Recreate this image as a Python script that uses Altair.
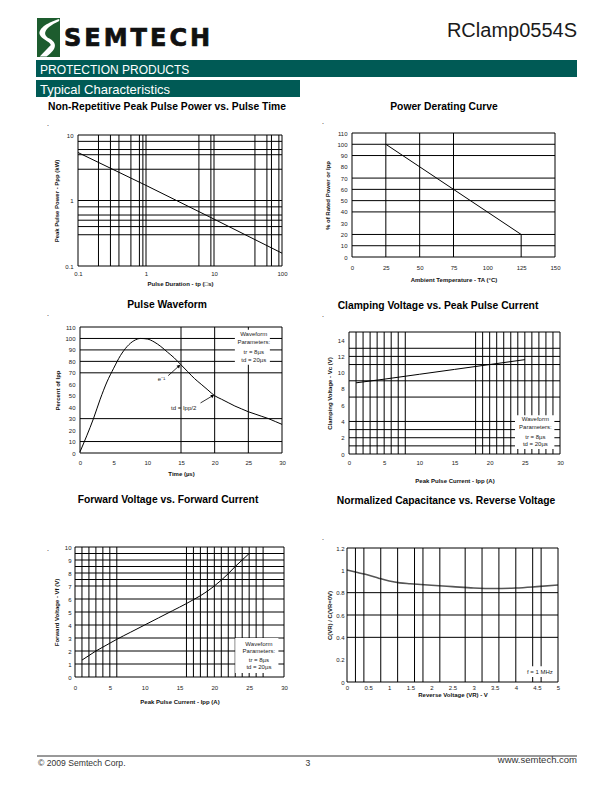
import math
import altair as alt
import pandas as pd

FONT = "Liberation Sans, Arial, Helvetica, sans-serif"
HEAVY = "DejaVu Sans, Verdana, sans-serif"
TEAL = "#005a55"
INK = "#222222"
W, H = 596, 776

# ---------------- data ----------------
# 1  Non-Repetitive Peak Pulse Power vs. Pulse Time
c1_tp = [0.1, 1, 10, 100]
c1_ppp = [5.4, 1.7, 0.52, 0.157]
c1_vgrid = [0.2, 0.3, 0.4, 0.6, 0.8, 0.9, 1, 6, 9, 10, 40, 60, 70, 90]
c1_hgrid = [0.3, 0.4, 0.5, 0.6, 0.8, 1, 3, 5, 6, 8]
c1_xticks = [0.1, 1, 10, 100]
c1_yticks = [0.1, 1, 10]

# 2  Power Derating Curve
c2_temp = [25, 125, 125]
c2_pct = [100, 20, 0]
c2_vgrid = [25, 50, 75]
c2_hgrid = [10, 20, 40, 50, 60, 70, 90, 100]
c2_xticks = [0, 25, 50, 75, 100, 125, 150]
c2_yticks = [0, 10, 20, 30, 40, 50, 60, 70, 80, 90, 100, 110]

# 3  Pulse Waveform
c3_time = [0, 1, 2, 3, 4, 5, 6, 7, 8, 9, 10, 11, 12, 13, 14, 15, 16, 17, 18, 19,
           20, 21, 22, 23, 24, 25, 26, 27, 28, 29, 30]
c3_pct = [1, 15, 30, 47, 62, 74, 85, 93, 98, 100, 99.5, 97, 93, 88, 83, 77, 71, 65,
          60, 55, 50, 47, 44, 41, 38.5, 36, 34, 32, 30, 27.5, 25]
c3_vgrid = [15, 20, 25]
c3_hgrid = [10, 30, 70, 80, 90, 100]
c3_xticks = [0, 5, 10, 15, 20, 25, 30]
c3_yticks = [0, 10, 20, 30, 40, 50, 60, 70, 80, 90, 100, 110]

# 4  Clamping Voltage vs. Peak Pulse Current
c4_ipp = [1, 5, 10, 15, 20, 25]
c4_vc = [8.75, 9.2, 9.8, 10.4, 11.0, 11.6]
c4_vgrid = [1, 2, 3, 4, 5, 6, 7, 8, 18, 19, 20, 21, 22, 23, 24, 25, 26, 27, 28, 29]
c4_hgrid = [1, 2, 3, 4, 7, 9, 11, 12, 13]
c4_xticks = [0, 5, 10, 15, 20, 25, 30]
c4_yticks = [0, 2, 4, 6, 8, 10, 12, 14]

# 5  Forward Voltage vs. Forward Current
c5_ipp = [1, 2, 3, 4, 5, 6, 8, 10, 12, 14, 16, 17, 18, 19, 20, 21, 22, 23, 24, 25]
c5_vf = [1.3, 1.65, 2.0, 2.3, 2.6, 2.9, 3.45, 4.0, 4.55, 5.1, 5.65, 5.95, 6.25, 6.6,
         7.0, 7.45, 7.95, 8.5, 9.0, 9.5]
c5_vgrid = [1, 2, 3, 4, 5, 6, 16, 17, 18, 19, 20, 21, 22, 23, 24, 25, 26, 27]
c5_hgrid = [1, 2, 3, 4, 5, 6, 7, 7.5, 8, 8.5, 9, 9.5]
c5_xticks = [0, 5, 10, 15, 20, 25, 30]
c5_yticks = [0, 1, 2, 3, 4, 5, 6, 7, 8, 9, 10]

# 6  Normalized Capacitance vs. Reverse Voltage
c6_vr = [0, 0.25, 0.5, 0.75, 1.0, 1.25, 1.5, 2.0, 2.5, 3.0, 3.5, 4.0, 4.5, 5.0]
c6_c = [1.003, 0.98, 0.958, 0.93, 0.905, 0.888, 0.88, 0.866, 0.854, 0.842, 0.837,
        0.842, 0.854, 0.868]
c6_vgrid = [0.2, 0.4, 0.8, 1.2, 1.6, 1.8, 2.2, 2.8, 3.2, 3.6, 4.0, 4.4, 4.6]
c6_hgrid = [0.4, 0.6, 0.8]
c6_xticks = [0, 0.5, 1, 1.5, 2, 2.5, 3, 3.5, 4, 4.5, 5]
c6_yticks = [0, 0.2, 0.4, 0.6, 0.8, 1, 1.2]

wave_lines = ["Waveform", "Parameters:", "tr = 8µs", "td = 20µs"]

titles = ["Non-Repetitive Peak Pulse Power vs. Pulse Time", "Power Derating Curve",
          "Pulse Waveform", "Clamping Voltage vs. Peak Pulse Current",
          "Forward Voltage vs. Forward Current", "Normalized Capacitance vs. Reverse Voltage"]

ONE = pd.DataFrame({"k": [0]})

AX = dict(domain=False, ticks=False, tickSize=0, grid=False, labelFlush=False,
          labelOverlap=False, labelFont=FONT, labelFontSize=6, labelColor=INK,
          titleFont=FONT, titleFontSize=6, titleFontWeight="bold", titleColor="#111")


class Frame:
    def __init__(self, xdom, ydom, xr, yr, xlog=False, ylog=False):
        self.xdom, self.ydom = xdom, ydom
        self.xs = alt.Scale(type="log" if xlog else "linear", domain=xdom, range=xr, nice=False)
        self.ys = alt.Scale(type="log" if ylog else "linear", domain=ydom, range=yr, nice=False)
        self.pxx = (xr[1] - xr[0]) / (xdom[1] - xdom[0])
        self.pxy = (yr[0] - yr[1]) / (ydom[1] - ydom[0])

    def X(self, f, axis=alt.Undefined):
        return alt.X(f, scale=self.xs, axis=axis)

    def Y(self, f, axis=alt.Undefined):
        return alt.Y(f, scale=self.ys, axis=axis)

    def rect(self, x0, x1, y0, y1, fill="white"):
        df = pd.DataFrame({"x0": [x0], "x1": [x1], "y0": [y0], "y1": [y1]})
        return alt.Chart(df).mark_rect(color=fill).encode(
            x=self.X("x0:Q"), x2="x1:Q", y=self.Y("y0:Q"), y2="y1:Q")

    def text(self, xv, yv, labels, size=6):
        df = pd.DataFrame({"x": xv, "y": yv, "t": labels})
        return alt.Chart(df).mark_text(font=FONT, fontSize=size, color=INK, align="center",
                                       baseline="middle").encode(
            x=self.X("x:Q"), y=self.Y("y:Q"), text="t:N")

    def arrow(self, x0, y0, x1, y1):
        df = pd.DataFrame({"x0": [x0], "y0": [y0], "x1": [x1], "y1": [y1]})
        shaft = alt.Chart(df).mark_rule(color="black", strokeWidth=0.8).encode(
            x=self.X("x0:Q"), x2="x1:Q", y=self.Y("y0:Q"), y2="y1:Q")
        ang = math.degrees(math.atan2((x1 - x0) * self.pxx, (y1 - y0) * self.pxy))
        head = alt.Chart(df).mark_point(shape="triangle-up", filled=True, color="black",
                                        size=14, angle=ang, opacity=1).encode(
            x=self.X("x1:Q"), y=self.Y("y1:Q"))
        return [shaft, head]

    def panel(self, xv, yv, ax_x, ax_y, vgrid, hgrid, under=(), over=(),
              color="black", width=1.0, interp="linear"):
        vg = alt.Chart(pd.DataFrame({"v": vgrid, "a": self.ydom[0], "b": self.ydom[1]})).mark_rule(
            color="black", strokeWidth=1).encode(x=self.X("v:Q"), y=self.Y("a:Q"), y2="b:Q")
        hg = alt.Chart(pd.DataFrame({"h": hgrid, "a": self.xdom[0], "b": self.xdom[1]})).mark_rule(
            color="black", strokeWidth=1).encode(y=self.Y("h:Q"), x=self.X("a:Q"), x2="b:Q")
        ln = alt.Chart(pd.DataFrame({"x": xv, "y": yv, "i": list(range(len(xv)))})).mark_line(
            color=color, strokeWidth=width, interpolate=interp).encode(
            x=self.X("x:Q", ax_x), y=self.Y("y:Q", ax_y), order="i:O")
        frame = alt.Chart(pd.DataFrame({"x0": [self.xdom[0]], "x1": [self.xdom[1]],
                                        "y0": [self.ydom[0]], "y1": [self.ydom[1]]})).mark_rect(
            fillOpacity=0, stroke="black", strokeWidth=1).encode(
            x=self.X("x0:Q"), x2="x1:Q", y=self.Y("y0:Q"), y2="y1:Q")
        return alt.layer(ln, vg, hg, *under, frame, *over)


def xaxis(values, title, bottom, lp, tp, fmt="d"):
    return alt.Axis(orient="bottom", values=values, format=fmt, title=title,
                    offset=bottom - H, labelPadding=lp, titlePadding=tp, **AX)


def yaxis(values, title, left, lp, tp, fmt="d"):
    return alt.Axis(orient="left", values=values, format=fmt, title=title,
                    offset=-left, labelPadding=lp, titlePadding=tp, **AX)


# ---------------- panels (ranges in view pixels = page - 8) ----------------
f1 = Frame([0.1, 100], [0.1, 10], [70, 274], [258, 127], True, True)
p1 = f1.panel(c1_tp, c1_ppp,
              xaxis(c1_xticks, "Pulse Duration - tp (\u25a1s)", 258, 4, 4, "~g"),
              yaxis(c1_yticks, "Peak Pulse Power - Ppp (kW)", 70, 5, 5, "~g"),
              c1_vgrid, c1_hgrid)

f2 = Frame([0, 150], [0, 110], [344, 547], [249, 125])
p2 = f2.panel(c2_temp, c2_pct,
              xaxis(c2_xticks, "Ambient Temperature - TA (\u00b0C)", 249, 7, 6),
              yaxis(c2_yticks, "% of Rated Power or Ipp", 344, 5, 6),
              c2_vgrid, c2_hgrid)

f3 = Frame([0, 30], [0, 110], [72, 274], [445, 319])
p3 = f3.panel(c3_time, c3_pct,
              xaxis(c3_xticks, "Time (\u00b5s)", 445, 6, 5),
              yaxis(c3_yticks, "Percent of Ipp", 72, 5, 4),
              c3_vgrid, c3_hgrid,
              under=[f3.rect(23, 28.2, 77, 107.7)],
              over=[f3.text([25.8] * 4, [103.9, 96.9, 88.1, 81.1], wave_lines),
                    f3.text([12.1], [65], ["e\u207b\u00b9"]),
                    f3.text([15.4], [39], ["td = Ipp/2"]),
                    *f3.arrow(13.1, 67.5, 14.7, 76),
                    *f3.arrow(17.9, 43.7, 19.7, 50)],
              interp="monotone")

f4 = Frame([0, 30], [0, 15], [341, 552], [446, 324])
p4 = f4.panel(c4_ipp, c4_vc,
              xaxis(c4_xticks, "Peak Pulse Current - Ipp (A)", 446, 5, 12),
              yaxis(c4_yticks, "Clamping Voltage - Vc (V)", 341, 5, 5),
              c4_vgrid, c4_hgrid,
              under=[f4.rect(23.6, 29.2, 0.6, 4.76)],
              over=[f4.text([26.5] * 4, [4.27, 3.26, 2.12, 1.18], wave_lines)])

f5 = Frame([0, 30], [0, 10], [67, 276], [669, 539])
p5 = f5.panel(c5_ipp, c5_vf,
              xaxis(c5_xticks, "Peak Pulse Current - Ipp (A)", 669, 7, 8),
              yaxis(c5_yticks, "Forward Voltage - Vf (V)", 67, 4, 5),
              c5_vgrid, c5_hgrid,
              under=[f5.rect(23, 29.2, 0.3, 3.0)],
              over=[f5.text([26.4] * 4, [2.56, 1.97, 1.33, 0.77], wave_lines)],
              interp="monotone")

f6 = Frame([0, 5], [0, 1.2], [339, 550], [674, 540])
p6 = f6.panel(c6_vr, c6_c,
              xaxis(c6_xticks, "Reverse Voltage (VR) - V", 674, 2, 1, "~g"),
              yaxis(c6_yticks, "C(VR) / C(VR=0V)", 339, 3, 3, "~g"),
              c6_vgrid, c6_hgrid,
              under=[f6.rect(4.17, 4.96, 0.045, 0.14)],
              over=[f6.text([4.57], [0.092], ["f = 1 MHz"])],
              color="#555555", width=1.6, interp="monotone")


# ---------------- page decoration (view pixels) ----------------
def ptext(s, x, y, size, font=FONT, weight="normal", color="black", align="left", stroke=0):
    kw = dict(text=s, font=font, fontSize=size, fontWeight=weight, color=color,
              align=align, baseline="alphabetic")
    if stroke:
        kw.update(stroke=color, strokeWidth=stroke)
    return alt.Chart(ONE).mark_text(**kw).encode(x=alt.value(x), y=alt.value(y))


def pbox(x, x2, y, y2, fill):
    return alt.Chart(ONE).mark_rect(color=fill).encode(
        x=alt.value(x), x2=alt.value(x2), y=alt.value(y), y2=alt.value(y2))


swoosh = ("M 0.55 -0.95 C 0.05 -0.8 -0.55 -0.5 -0.45 -0.15 "
          "C -0.38 0.08 0.05 0.2 0.12 0.38 L -0.45 0.97 L -0.1 0.97 "
          "C 0.5 0.55 0.4 0.25 0.05 0.05 C -0.3 -0.12 -0.3 -0.45 0.55 -0.85 Z")

decor = [
    pbox(29, 52, 10, 49, "#1d5c2e"),
    alt.Chart(ONE).mark_point(shape=swoosh, filled=True, color="white", opacity=1,
                              size=1521).encode(x=alt.value(40.5), y=alt.value(29.5)),
]
letters = ["S", "E", "M", "T", "E", "C", "H"]
lx = [56, 76.3, 95.7, 122.6, 142, 161.4, 181.9]
for ch, xx in zip(letters, lx):
    decor.append(ptext(ch, xx, 38, 24, font=HEAVY, weight="bold", color="#111", stroke=0.7))
decor += [
    ptext("RClamp0554S", 569, 29, 20, color="#1a1a1a", align="right"),
    pbox(28, 569, 52, 69, TEAL),
    ptext("PROTECTION PRODUCTS", 32, 66, 12, color="white"),
    pbox(28, 292, 72, 89, TEAL),
    ptext("Typical Characteristics", 32, 86, 13, color="white"),
]
tpos = [(159, 102), (436, 102), (159, 300), (430, 301), (160, 495), (438, 496)]
for t, (tx, ty) in zip(titles, tpos):
    decor.append(ptext(t, tx, ty, 10.3, weight="bold", align="center"))
for dx, dy in [(39, 118), (314, 116), (39, 308), (314, 309), (39, 543), (314, 532)]:
    decor.append(ptext(".", dx, dy, 7))
decor += [
    alt.Chart(ONE).mark_rule(color="#333", strokeWidth=1).encode(
        x=alt.value(29), x2=alt.value(569), y=alt.value(748)),
    ptext("\u00a9 2009 Semtech Corp.", 30, 758, 8.6, color="#333"),
    ptext("3", 300, 758, 8.6, color="#333", align="center"),
    ptext("www.semtech.com", 569, 755, 9.5, color="#333", align="right"),
]

chart = alt.layer(p1, p2, p3, p4, p5, p6, *decor).resolve_scale(
    x="independent", y="independent").properties(
    width=W, height=H, padding=0,
    autosize=alt.AutoSizeParams(type="none")).configure_view(stroke="transparent")

chart.save("out.html", embed_options={"renderer": "svg", "actions": False})
